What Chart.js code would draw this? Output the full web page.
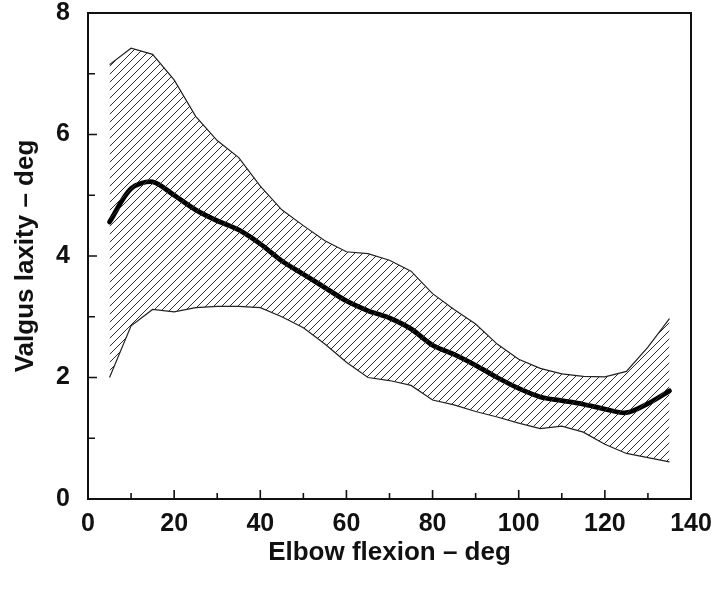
<!DOCTYPE html>
<html>
<head>
<meta charset="utf-8">
<script src="https://cdn.jsdelivr.net/npm/chart.js@4/dist/chart.umd.min.js"></script>
<style>
  html, body { margin: 0; padding: 0; background: #ffffff; }
  #wrap { width: 718px; height: 590px; }
</style>
</head>
<body>
<div id="wrap"><canvas id="c" width="718" height="590"></canvas></div>
<script>
// ---- data ----
const flexion = [5,10,15,20,25,30,35,40,45,50,55,60,65,70,75,80,85,90,95,100,105,110,115,120,125,130,135];
const meanLaxity = [4.56,5.11,5.22,5.00,4.76,4.58,4.43,4.20,3.92,3.70,3.48,3.26,3.10,2.98,2.80,2.53,2.38,2.20,2.00,1.82,1.68,1.62,1.56,1.48,1.42,1.57,1.78];
const upperLaxity = [7.15,7.42,7.32,6.90,6.30,5.90,5.62,5.15,4.76,4.50,4.25,4.07,4.04,3.93,3.75,3.38,3.12,2.88,2.55,2.30,2.15,2.06,2.02,2.01,2.10,2.50,2.97];
const lowerLaxity = [2.00,2.85,3.12,3.08,3.15,3.17,3.17,3.15,3.00,2.82,2.55,2.25,2.00,1.95,1.87,1.63,1.55,1.44,1.35,1.25,1.16,1.20,1.10,0.90,0.75,0.68,0.61];
const xMajorTicks = [0,20,40,60,80,100,120,140];
const xMinorTicks = [10,30,50,70,90,110,130];
const yMajorTicks = [0,2,4,6,8];
const yMinorTicks = [1,3,5,7];
const xTitle = 'Elbow flexion \u2013 deg';
const yTitle = 'Valgus laxity \u2013 deg';

// hatch pattern "/"
function makeHatch() {
  const s = 8;
  const c = document.createElement('canvas');
  c.width = s; c.height = s;
  const g = c.getContext('2d');
  g.strokeStyle = '#2e2e2e';
  g.lineWidth = 1;
  g.beginPath();
  g.moveTo(0, s); g.lineTo(s, 0);
  g.moveTo(-s/2, s/2); g.lineTo(s/2, -s/2);
  g.moveTo(s/2, s*1.5); g.lineTo(s*1.5, s/2);
  g.stroke();
  return g.createPattern(c, 'repeat');
}

const pts = arr => flexion.map((x, i) => ({x: x, y: arr[i]}));

const frameTicks = {
  id: 'frameTicks',
  afterDatasetsDraw(chart) {
    const {ctx, chartArea: a, scales} = chart;
    const xs = scales.x, ys = scales.y;
    ctx.save();
    ctx.strokeStyle = '#111';
    ctx.lineWidth = 2;
    ctx.strokeRect(a.left, a.top, a.right - a.left, a.bottom - a.top);
    ctx.lineWidth = 1.6;
    ctx.beginPath();
    xMajorTicks.forEach(v => { const p = xs.getPixelForValue(v); ctx.moveTo(p, a.bottom); ctx.lineTo(p, a.bottom - 9); });
    xMinorTicks.forEach(v => { const p = xs.getPixelForValue(v); ctx.moveTo(p, a.bottom); ctx.lineTo(p, a.bottom - 6); });
    yMajorTicks.forEach(v => { const p = ys.getPixelForValue(v); ctx.moveTo(a.left, p); ctx.lineTo(a.left + 9, p); });
    yMinorTicks.forEach(v => { const p = ys.getPixelForValue(v); ctx.moveTo(a.left, p); ctx.lineTo(a.left + 7, p); });
    ctx.stroke();
    ctx.restore();
  }
};

Chart.defaults.font.family = "'Liberation Sans', Arial, sans-serif";
Chart.defaults.color = '#111';

new Chart(document.getElementById('c'), {
  type: 'line',
  data: {
    datasets: [
      { label: 'upper', data: pts(upperLaxity), borderColor: '#222', borderWidth: 1.2,
        backgroundColor: makeHatch(), fill: '+1', pointRadius: 0, tension: 0 },
      { label: 'lower', data: pts(lowerLaxity), borderColor: '#222', borderWidth: 1.2,
        fill: false, pointRadius: 0, tension: 0 },
      { label: 'mean', data: pts(meanLaxity), borderColor: '#000', borderWidth: 4.8,
        fill: false, pointRadius: 0, tension: 0.3, borderCapStyle: 'round', borderJoinStyle: 'round' }
    ]
  },
  options: {
    responsive: false,
    devicePixelRatio: 1,
    animation: false,
    layout: { padding: { top: 13, right: 27, left: 0, bottom: 0 } },
    plugins: { legend: { display: false }, tooltip: { enabled: false } },
    scales: {
      x: {
        type: 'linear', min: 0, max: 140,
        grid: { display: false, drawTicks: false },
        border: { display: false },
        ticks: { stepSize: 20, padding: 10, font: { size: 25, weight: 'bold' }, color: '#111', maxRotation: 0 },
        title: { display: true, text: xTitle, font: { size: 26, weight: 'bold' }, color: '#111', padding: { top: 0, bottom: 22 } },
        afterFit(scale) { scale.height = 91; scale.paddingLeft = 0; scale.paddingRight = 0; }
      },
      y: {
        type: 'linear', min: 0, max: 8,
        grid: { display: false, drawTicks: false },
        border: { display: false },
        ticks: { stepSize: 2, padding: 18, font: { size: 25, weight: 'bold' }, color: '#111' },
        title: { display: true, text: yTitle, font: { size: 26, weight: 'bold' }, color: '#111', padding: { top: 10, bottom: 0 } },
        afterFit(scale) { scale.width = 88; scale.paddingTop = 0; scale.paddingBottom = 0; }
      }
    }
  },
  plugins: [frameTicks]
});
</script>
</body>
</html>
